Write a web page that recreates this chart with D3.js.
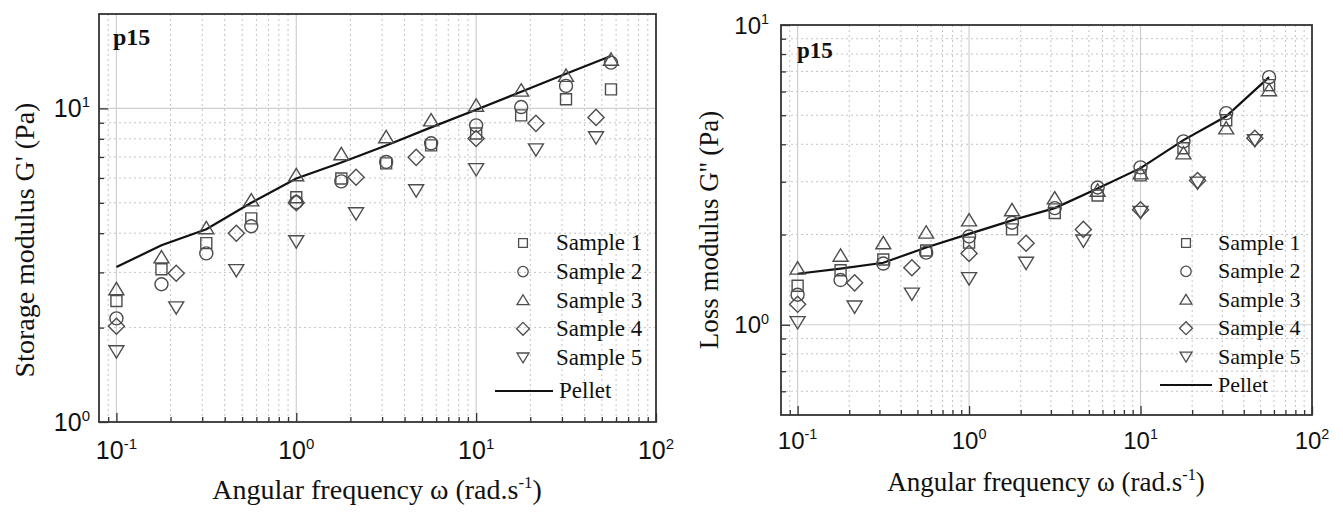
<!DOCTYPE html>
<html>
<head>
<meta charset="utf-8">
<script src="https://cdn.jsdelivr.net/npm/d3@7"></script>
<style>
  body { margin: 0; background: #fff; }
  text { fill: #111; }
</style>
</head>
<body>
<svg id="chart" width="1343" height="516"></svg>
<script>
// frequencies (rad/s) for samples 1-3 and pellet, and for samples 4-5
const freqA = [0.1, 0.178, 0.316, 0.562, 1, 1.78, 3.16, 5.62, 10, 17.8, 31.6, 56.2];
const freqB = [0.1, 0.215, 0.464, 1, 2.15, 4.64, 10, 21.5, 46.4];

// storage modulus G' (Pa)
const storage1 = [2.43, 3.07, 3.72, 4.46, 5.21, 5.98, 6.68, 7.62, 8.32, 9.5, 10.7, 11.5];
const storage2 = [2.14, 2.75, 3.45, 4.21, 5.02, 5.85, 6.75, 7.74, 8.83, 10.1, 11.8, 14.0];
const storage3 = [2.65, 3.35, 4.15, 5.09, 6.12, 7.14, 8.09, 9.16, 10.2, 11.4, 12.7, 14.3];
const storage4 = [2.02, 2.98, 4.0, 5.0, 6.03, 6.98, 8.02, 8.96, 9.36];
const storage5 = [1.68, 2.32, 3.05, 3.77, 4.63, 5.48, 6.4, 7.4, 8.09];
const storagePellet = [3.12, 3.66, 4.12, 5.0, 5.98, 6.72, 7.62, 8.7, 9.9, 11.3, 12.9, 14.7];

// loss modulus G'' (Pa)
const loss1 = [1.35, 1.52, 1.65, 1.77, 1.88, 2.08, 2.36, 2.7, 3.15, 3.88, 4.81, 6.3];
const loss2 = [1.26, 1.41, 1.6, 1.74, 1.97, 2.19, 2.45, 2.87, 3.35, 4.09, 5.08, 6.7];
const loss3 = [1.54, 1.70, 1.87, 2.03, 2.23, 2.41, 2.64, 2.8, 3.2, 3.73, 4.52, 6.06];
const loss4 = [1.17, 1.38, 1.55, 1.73, 1.87, 2.08, 2.42, 3.03, 4.19];
const loss5 = [1.02, 1.15, 1.27, 1.43, 1.61, 1.91, 2.38, 2.98, 4.13];
const lossPellet = [1.48, 1.54, 1.61, 1.81, 2.01, 2.23, 2.45, 2.85, 3.33, 4.13, 4.96, 6.7];

const sampleNames = ['Sample 1', 'Sample 2', 'Sample 3', 'Sample 4', 'Sample 5'];
const pelletName = 'Pellet';
const xTicks = [0.1, 1, 10, 100];

const svg = d3.select('#chart');
const markColor = '#4d4d4d';
const serif = 'Liberation Serif, Times New Roman, serif';
const sans = 'Liberation Sans, Arial, sans-serif';

// open marker shapes, centred on 0,0
function shapePath(kind, s) {
  if (kind === 'square') return `M${-s},${-s}H${s}V${s}H${-s}Z`;
  if (kind === 'circle') return `M${s},0A${s},${s} 0 1,1 ${-s},0A${s},${s} 0 1,1 ${s},0Z`;
  if (kind === 'up') return `M0,${-s * 1.05}L${s * 1.15},${s * 0.85}L${-s * 1.15},${s * 0.85}Z`;
  if (kind === 'down') return `M0,${s * 1.05}L${s * 1.15},${-s * 0.85}L${-s * 1.15},${-s * 0.85}Z`;
  if (kind === 'diamond') return `M0,${-s * 1.3}L${s * 1.3},0L0,${s * 1.3}L${-s * 1.3},0Z`;
}
const kinds = ['square', 'circle', 'up', 'diamond', 'down'];
const markSize = [5.5, 6.5, 6.5, 6.2, 6.5];

function expLabel(sel, d, fs) {
  const e = Math.round(Math.log10(d));
  sel.append('tspan').text('10');
  sel.append('tspan').attr('dy', -fs * 0.4).attr('font-size', fs * 0.6).text(e);
}

function drawChart(cfg) {
  const { box, yDomain, series, pellet, yTicks, fs } = cfg;
  const x = d3.scaleLog().domain([0.08, 100]).range([box.left, box.right]);
  const y = d3.scaleLog().domain(yDomain).range([box.bottom, box.top]);
  const g = svg.append('g');

  // grid
  const xMinor = [0.09];
  [0.1, 1, 10].forEach(b => d3.range(2, 10).forEach(k => xMinor.push(b * k)));
  const yMinor = [];
  [0.1, 1, 10].forEach(b => d3.range(2, 10).forEach(k => {
    const v = b * k;
    if (v > yDomain[0] && v < yDomain[1]) yMinor.push(v);
  }));

  g.selectAll('.gxm').data(xMinor).enter().append('line')
    .attr('x1', d => x(d)).attr('x2', d => x(d))
    .attr('y1', box.top).attr('y2', box.bottom)
    .attr('stroke', '#c4c4c4').attr('stroke-dasharray', '2,3');
  g.selectAll('.gym').data(yMinor).enter().append('line')
    .attr('y1', d => y(d)).attr('y2', d => y(d))
    .attr('x1', box.left).attr('x2', box.right)
    .attr('stroke', '#c4c4c4').attr('stroke-dasharray', '2,3');
  g.selectAll('.gxM').data([0.1, 1, 10]).enter().append('line')
    .attr('x1', d => x(d)).attr('x2', d => x(d))
    .attr('y1', box.top).attr('y2', box.bottom)
    .attr('stroke', '#cfcfcf').attr('stroke-width', 1.2);
  g.selectAll('.gyM').data(yTicks.filter(v => y(v) > box.top + 1 && y(v) < box.bottom - 1)).enter().append('line')
    .attr('y1', d => y(d)).attr('y2', d => y(d))
    .attr('x1', box.left).attr('x2', box.right)
    .attr('stroke', '#cfcfcf').attr('stroke-width', 1.2);

  // axes with inward ticks
  const xAxisMinor = d3.axisBottom(x).tickValues(xMinor).tickSize(-5).tickFormat('');
  const xAxisMajor = d3.axisBottom(x).tickValues(xTicks).tickSize(-9).tickFormat('');
  const yAxisMinor = d3.axisLeft(y).tickValues(yMinor).tickSize(-5).tickFormat('');
  const yAxisMajor = d3.axisLeft(y).tickValues(yTicks).tickSize(-9).tickFormat('');
  [xAxisMinor, xAxisMajor].forEach(a => {
    const ax = g.append('g').attr('transform', `translate(0,${box.bottom})`).call(a);
    ax.select('.domain').remove();
    ax.selectAll('line').attr('stroke', '#333').attr('stroke-width', 1.3);
  });
  [yAxisMinor, yAxisMajor].forEach(a => {
    const ax = g.append('g').attr('transform', `translate(${box.left},0)`).call(a);
    ax.select('.domain').remove();
    ax.selectAll('line').attr('stroke', '#333').attr('stroke-width', 1.3);
  });

  // frame
  g.append('rect')
    .attr('x', box.left).attr('y', box.top)
    .attr('width', box.right - box.left).attr('height', box.bottom - box.top)
    .attr('fill', 'none').attr('stroke', '#333').attr('stroke-width', 1.8);

  // tick labels
  g.selectAll('.xl').data(xTicks).enter().append('text')
    .attr('x', d => x(d)).attr('y', cfg.xTickY)
    .attr('text-anchor', 'middle')
    .attr('font-family', sans).attr('font-size', fs.tick)
    .each(function (d) { expLabel(d3.select(this), d, fs.tick); });
  g.selectAll('.yl').data(yTicks).enter().append('text')
    .attr('x', box.left - cfg.yTickGap).attr('y', d => y(d) + fs.tick * 0.36)
    .attr('text-anchor', 'end')
    .attr('font-family', sans).attr('font-size', fs.tick)
    .each(function (d) { expLabel(d3.select(this), d, fs.tick); });

  // pellet line
  const line = d3.line().x((d, i) => x(freqA[i])).y(d => y(d));
  g.append('path').datum(pellet)
    .attr('d', line).attr('fill', 'none')
    .attr('stroke', '#111').attr('stroke-width', 2.2);

  // sample markers
  series.forEach((vals, si) => {
    const fx = si < 3 ? freqA : freqB;
    g.selectAll(null).data(vals).enter().append('path')
      .attr('transform', (d, i) => `translate(${x(fx[i])},${y(d)})`)
      .attr('d', shapePath(kinds[si], markSize[si]))
      .attr('fill', 'none').attr('stroke', markColor).attr('stroke-width', 1.4);
  });

  // p15 label
  g.append('text').attr('x', cfg.tag[0]).attr('y', cfg.tag[1])
    .attr('font-family', serif)
    .attr('font-weight', 'bold').attr('font-size', fs.tag).text('p15');

  // axis titles
  const xt = g.append('text')
    .attr('x', cfg.xTitle[0]).attr('y', cfg.xTitle[1])
    .attr('text-anchor', 'middle')
    .attr('font-family', serif).attr('font-size', fs.title);
  xt.append('tspan').text('Angular frequency \u03c9 (rad.s');
  xt.append('tspan').attr('dy', -fs.title * 0.4).attr('font-size', fs.title * 0.6).text('-1');
  xt.append('tspan').attr('dy', fs.title * 0.4).text(')');
  g.append('text')
    .attr('transform', `translate(${cfg.yTitle[0]},${cfg.yTitle[1]}) rotate(-90)`)
    .attr('text-anchor', 'middle')
    .attr('font-family', serif).attr('font-size', fs.title)
    .text(cfg.yLabel);

  // legend
  const lg = cfg.legend;
  sampleNames.forEach((name, i) => {
    const ly = lg.y0 + i * lg.dy;
    g.append('path')
      .attr('transform', `translate(${lg.mx},${ly})`)
      .attr('d', shapePath(kinds[i], markSize[i] * 0.8))
      .attr('fill', 'none').attr('stroke', markColor).attr('stroke-width', 1.3);
    g.append('text').attr('x', lg.tx).attr('y', ly + fs.legend * 0.32)
      .attr('font-family', serif).attr('font-size', fs.legend)
      .text(name);
  });
  const py = lg.y0 + 5 * lg.dy + lg.extra;
  g.append('line').attr('x1', lg.l1).attr('x2', lg.l2).attr('y1', py).attr('y2', py)
    .attr('stroke', '#111').attr('stroke-width', 2.2);
  g.append('text').attr('x', lg.l2 + 6).attr('y', py + fs.legend * 0.32)
    .attr('font-family', serif).attr('font-size', fs.legend)
    .text(pelletName);
}

drawChart({
  box: { left: 99, right: 656, top: 14, bottom: 422 },
  yDomain: [1, 20],
  yTicks: [1, 10],
  series: [storage1, storage2, storage3, storage4, storage5],
  pellet: storagePellet,
  fs: { tick: 25, title: 28, legend: 23, tag: 24 },
  xTickY: 459,
  yTickGap: 9,
  tag: [113, 45],
  xTitle: [377, 499],
  yTitle: [34, 240],
  yLabel: "Storage modulus G' (Pa)",
  legend: { mx: 523, tx: 556, y0: 243, dy: 28.6, extra: 5, l1: 495, l2: 553 }
});

drawChart({
  box: { left: 781, right: 1312, top: 25, bottom: 415 },
  yDomain: [0.5, 10],
  yTicks: [1, 10],
  series: [loss1, loss2, loss3, loss4, loss5],
  pellet: lossPellet,
  fs: { tick: 24, title: 27, legend: 22, tag: 23 },
  xTickY: 449,
  yTickGap: 12,
  tag: [797, 58],
  xTitle: [1046, 491],
  yTitle: [718, 230],
  yLabel: "Loss modulus G'' (Pa)",
  legend: { mx: 1186, tx: 1218, y0: 243, dy: 28.4, extra: 0, l1: 1160, l2: 1212 }
});
</script>
</body>
</html>
